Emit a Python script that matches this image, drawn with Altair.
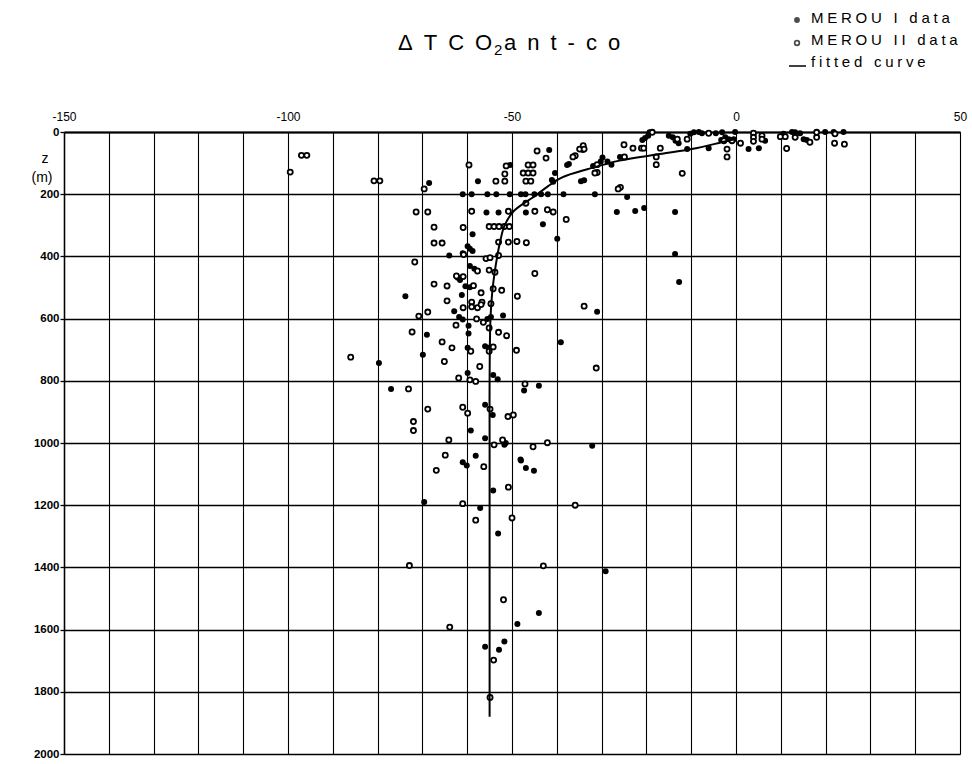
import altair as alt
import pandas as pd

# ---------------- data (x = ΔTCO2ant-co, z = depth in m) ----------------
merou1_surface = [(-37.3,103),(-33.9,155),(-29.8,82),(-30.2,95),(-28.7,95),(-27.8,105),(-20.9,26),(-20.3,19),
    (-19.6,12),(-19.3,1),(-15.0,12),(-14.1,17),(-13.5,28),(-12.8,36),(-10.9,55),(-10.2,6),(-9.4,1),(-8.3,0),
    (-7.6,4),(-6.1,52),(-4.5,4),(-3.1,1),(-1.6,23),(-0.2,0),(-0.5,23),(-3.3,26),(-2.4,17),(2.8,55),(5.1,52),
    (6.5,28),(10.6,6),(12.5,0),(13.2,1),(14.3,4),(15.1,23),(15.8,26),(19.9,0),(21.8,0),(24.0,0)]
merou1_upper = [(-41.7,58),(-34.2,58),(-25.9,80),(-37.7,106),(-50.4,106),(-57.6,158),(-40.4,132),(-41.1,154),
    (-40.8,160),(-34.6,158),(-31.9,109),(-24.3,209),(-26.6,257),(-22.5,254),(-20.5,244),(-13.6,257),(-13.6,392),
    (-12.7,482),(-68.5,164)]
merou1_200m = [(-61,200),(-59,200),(-55.5,200),(-53.5,200),(-50.5,200),(-48,200),(-47,200),(-45,200),
    (-43.5,200),(-42,200),(-38.5,200),(-31.5,200)]
merou1_deep = [(-55.7,259),(-53.0,259),(-46.9,259),(-43.1,297),(-58.8,329),(-39.9,343),(-59.9,367),(-59.4,375),
    (-58.8,383),(-64.0,397),(-61.0,390),(-59.4,431),(-58.4,440),(-62.1,469),(-61.6,476),(-60.4,496),(-59.4,499),
    (-73.8,528),(-61.2,524),(-62.9,576),(-52.0,590),(-61.8,595),(-61.0,603),(-55.5,601),(-54.7,595),(-59.7,623),
    (-59.7,648),(-69.0,652),(-39.1,676),(-59.9,694),(-56.0,689),(-55.2,694),(-69.9,716),(-79.7,743),(-59.9,775),
    (-54.2,781),(-53.2,795),(-77.0,826),(-47.3,831),(-44.0,816),(-56.0,877),(-54.3,910),(-59.2,960),(-56.0,985),
    (-51.7,1006),(-51.4,1000),(-58.1,1041),(-48.1,1053),(-32.1,1009),(-31.0,578),(-61.0,1062),(-60.1,1072),
    (-48.0,1056),(-46.9,1080),(-45.1,1089),(-54.2,1153),(-69.6,1190),(-57.1,1209),(-53.1,1291),(-29.1,1412),
    (-44.0,1547),(-48.8,1582),(-56.0,1655),(-52.9,1665),(-51.7,1638)]

merou2_left = [(-97.0,75),(-95.8,75),(-99.5,129),(-80.8,157),(-79.5,157),(-69.6,183),(-71.4,257),(-68.8,257),
    (-67.4,306),(-67.4,357),(-65.6,357),(-71.7,418),(-67.4,489),(-64.5,495),(-64.5,543),(-68.8,579),(-70.8,592),
    (-62.5,621),(-72.3,643),(-65.6,675),(-63.4,694)]
merou2_surface = [(-35.9,76),(-34.9,55),(-34.1,44),(-33.9,55),(-31.0,105),(-31.0,130),(-25.8,178),(-25.0,41),
    (-23.0,52),(-21.1,52),(-20.6,52),(-24.9,80),(-18.7,1),(-16.9,52),(-17.8,80),(-17.8,105),(-12.0,133),
    (-13.1,23),(-10.9,23),(-6.1,4),(-2.0,55),(-2.0,80),(-2.7,28),(-0.9,28),(1.0,36),(3.9,4),(3.9,17),(3.9,30),
    (5.8,12),(5.8,23),(9.9,15),(11.0,15),(11.3,53),(13.2,17),(16.5,33),(18.0,17),(18.0,1),(22.1,6),(22.0,36),
    (24.2,39)]
merou2_upper = [(-59.6,106),(-44.4,61),(-42.4,84),(-36.4,80),(-51.3,109),(-51.6,135),(-51.6,158),(-53.6,158),
    (-46.4,106),(-45.3,106),(-47.5,132),(-46.4,132),(-45.3,132),(-46.9,158),(-45.8,158),(-31.5,132),(-26.3,183)]
merou2_deep = [(-59.0,255),(-50.8,255),(-44.9,255),(-42.1,250),(-40.8,257),(-37.9,281),(-60.9,307),(-55.1,304),
    (-54.0,304),(-52.9,304),(-51.7,304),(-50.6,304),(-53.0,354),(-50.8,354),(-48.9,352),(-46.8,356),(-55.8,407),
    (-54.9,404),(-53.0,397),(-60.8,394),(-57.7,447),(-55.1,444),(-53.8,451),(-44.9,455),(-60.9,465),(-62.4,463),
    (-58.6,494),(-56.9,517),(-54.2,504),(-52.3,509),(-48.8,528),(-59.0,547),(-56.7,547),(-60.9,565),(-59.0,562),
    (-57.7,565),(-56.9,555),(-54.7,552),(-57.9,601),(-56.4,612),(-55.1,630),(-53.0,644),(-51.2,655),(-59.2,705),
    (-54.2,691),(-55.1,705),(-49.0,702),(-65.1,738),(-57.2,754),(-61.9,791),(-59.4,797),(-58.1,802),(-73.1,826),
    (-47.1,810),(-68.8,891),(-61.0,885),(-59.9,904),(-54.9,891),(-50.9,915),(-49.7,910),(-72.0,931),(-72.0,960),
    (-64.1,990),(-52.1,990),(-54.0,1006),(-45.3,1012),(-42.1,999),(-64.9,1039),(-31.2,759),(-33.9,560),
    (-86.0,724),(-56.3,1076),(-66.9,1088),(-50.8,1142),(-61.0,1195),(-35.9,1200),(-58.1,1248),(-50.0,1241),
    (-72.9,1394),(-43.0,1395),(-51.9,1504),(-63.9,1592),(-54.1,1698),(-54.9,1818),(-46.9,229)]

curve_z = [23, 33, 55, 71, 92, 119, 146, 175, 204, 254, 302, 350, 400, 500, 600, 800, 1000, 1400, 1880]
curve_x = [-0.3, -3.2, -9.9, -17.0, -26.0, -33.0, -38.8, -42.0, -44.7, -49.6, -51.7, -52.6, -53.3, -54.3,
           -54.8, -55.0, -55.0, -55.0, -55.0]

x_labels = [-150, -100, -50, 0, 50]
z_labels = list(range(0, 2001, 200))
x_grid = list(range(-150, 51, 10))

title_parts = ["ΔTCO", "2", "ant-co"]
legend_labels = ["MEROU I data", "MEROU II data", "fitted curve"]

# ---------------- build ----------------
FONT = "Liberation Sans"


def spaced(s, sep="\u2005"):
    return sep.join(list(s))


df1 = pd.DataFrame(merou1_surface + merou1_upper + merou1_200m + merou1_deep, columns=["x", "z"])
df2 = pd.DataFrame(merou2_left + merou2_surface + merou2_upper + merou2_deep, columns=["x", "z"])
dfc = pd.DataFrame({"x": curve_x, "z": curve_z})

W, H = 896, 622
xscale = alt.Scale(domain=[-150, 50], nice=False, zero=False)
yscale = alt.Scale(domain=[0, 2000], reverse=True, nice=False, zero=False)

xaxis = alt.Axis(orient="top", values=x_grid, title=None, grid=True, gridColor="black", gridWidth=1.1,
                 gridOpacity=1, ticks=False, domain=True, domainColor="black", domainWidth=2.2,
                 labelExpr="datum.value % 50 == 0 ? toString(datum.value) : ''",
                 labelFont=FONT, labelFontSize=12, labelColor="black", labelPadding=9, labelFlush=False)
yaxis = alt.Axis(orient="left", values=z_labels, title=None, grid=True, gridColor="black", gridWidth=1.3,
                 gridOpacity=1, ticks=True, tickSize=4, tickColor="black", tickWidth=1.3, domain=True,
                 domainColor="black", domainWidth=1.5, labelFont=FONT, labelFontSize=11.5,
                 labelFontWeight="bold", labelColor="black", labelPadding=1, labelFlush=False,
                 labelExpr="toString(datum.value)")

base_x = alt.X("x:Q", scale=xscale, axis=xaxis)
base_y = alt.Y("z:Q", scale=yscale, axis=yaxis)

pts1 = alt.Chart(df1).mark_point(filled=True, shape="circle", size=36, color="black", opacity=1).encode(
    x=base_x, y=base_y)
pts2 = alt.Chart(df2).mark_point(filled=False, shape="circle", size=26, color="black", strokeWidth=1.8,
                                 fill="white", fillOpacity=1, opacity=1).encode(
    x=alt.X("x:Q", scale=xscale), y=alt.Y("z:Q", scale=yscale))
curve = alt.Chart(dfc).mark_line(color="black", strokeWidth=2, interpolate="catmull-rom").encode(
    x=alt.X("x:Q", scale=xscale), y=alt.Y("z:Q", scale=yscale), order=alt.Order("z:Q"))

one = pd.DataFrame({"k": [0]})


def label(text, x, y, size, align="left", weight="normal", baseline="alphabetic"):
    return alt.Chart(one).mark_text(text=text, font=FONT, fontSize=size, align=align, baseline=baseline,
                                    fontWeight=weight, color="black").encode(x=alt.value(x), y=alt.value(y))


title1 = label(spaced(title_parts[0], "\u2002"), 334, -82, 22)
title2 = label(title_parts[1], 430, -77, 15)
title3 = label("\u2002".join(["a", "n", "t", "-", "c", "o"]), 440, -82, 22)

zlab = label("z", -19, 31, 14, align="center")
mlab = label("(m)", -22, 50, 14, align="center")

leg_texts = [label(spaced(t), 747, -109 + 22 * i, 15) for i, t in enumerate(legend_labels)]
leg_dot = alt.Chart(one).mark_point(filled=True, shape="circle", size=34, color="black").encode(
    x=alt.value(733), y=alt.value(-112))
leg_open = alt.Chart(one).mark_point(filled=False, shape="circle", size=22, color="black",
                                     strokeWidth=1.7).encode(x=alt.value(733), y=alt.value(-89))
leg_line = alt.Chart(one).mark_rule(color="black", strokeWidth=1.5).encode(
    x=alt.value(725), x2=alt.value(742), y=alt.value(-66))

chart = alt.layer(pts1, pts2, curve, title1, title2, title3, zlab, mlab, *leg_texts, leg_dot, leg_open,
                  leg_line).properties(
    width=W, height=H, autosize=alt.AutoSizeParams(type="none"),
    padding={"left": 64, "top": 132, "right": 12, "bottom": 10},
).configure_view(stroke="black", strokeWidth=1.5).configure(background="white")

chart.save("out.html", embed_options={"renderer": "svg", "actions": False})
